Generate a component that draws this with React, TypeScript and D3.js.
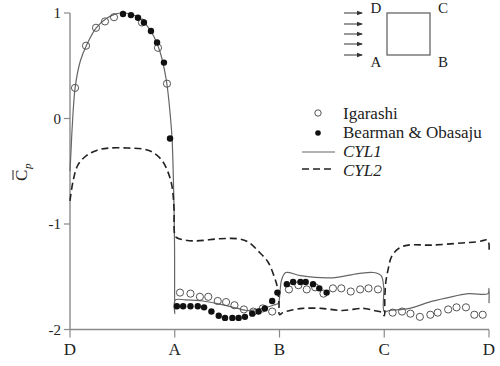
import React from 'react';
import * as d3 from 'd3';

// face positions along the cylinder perimeter (D -> A -> B -> C -> D)
const faceLabels = ['D', 'A', 'B', 'C', 'D'];
const yTicks = [1, 0, -1, -2];

// Igarashi (open circles)
const igarashiS = [
  0.048, 0.153, 0.248, 0.334, 0.42, 0.687, 0.84, 0.926,
  1.05, 1.15, 1.24, 1.32, 1.41, 1.49, 1.57, 1.66, 1.75, 1.84, 1.93,
  2.09, 2.18, 2.26, 2.34, 2.42, 2.51, 2.59, 2.68, 2.77, 2.85, 2.94,
  3.08, 3.17, 3.25, 3.34, 3.44, 3.51, 3.61, 3.69, 3.78, 3.86, 3.94,
];
const igarashiCp = [
  0.29, 0.69, 0.86, 0.92, 0.96, 0.91, 0.67, 0.33,
  -1.65, -1.66, -1.69, -1.69, -1.73, -1.74, -1.77, -1.81, -1.83, -1.8, -1.83,
  -1.62, -1.58, -1.62, -1.6, -1.66, -1.61, -1.61, -1.64, -1.62, -1.61, -1.62,
  -1.84, -1.83, -1.85, -1.88, -1.86, -1.84, -1.81, -1.79, -1.79, -1.86, -1.86,
];

// Bearman & Obasaju (filled dots)
const bearmanS = [
  0.506, 0.582, 0.649, 0.706, 0.773, 0.831, 0.897, 0.955,
  1.02, 1.08, 1.15, 1.22, 1.28, 1.35, 1.42, 1.48, 1.55, 1.61, 1.67, 1.74, 1.8, 1.86, 1.93, 1.98,
  2.07, 2.13, 2.2, 2.25, 2.32, 2.38, 2.45,
];
const bearmanCp = [
  0.99, 0.98, 0.955, 0.91, 0.83, 0.72, 0.53, -0.19,
  -1.78, -1.78, -1.78, -1.78, -1.79, -1.83, -1.87, -1.89, -1.89, -1.89, -1.88, -1.85, -1.83, -1.8, -1.73, -1.65,
  -1.57, -1.55, -1.55, -1.55, -1.57, -1.61, -1.65,
];

// CYL1 (solid line)
const cyl1S = [
  0, 0.01, 0.02, 0.05, 0.1, 0.16, 0.25, 0.35, 0.43, 0.5, 0.58, 0.65, 0.72, 0.8, 0.86, 0.92, 0.96, 0.975, 0.99, 0.998,
  1.0, 1.005, 1.1, 1.27, 1.43, 1.6, 1.69, 1.84, 1.94, 1.99,
  2.0, 2.02, 2.06, 2.2, 2.5, 2.75, 2.9, 2.97, 2.995,
  3.0, 3.05, 3.24, 3.43, 3.6, 3.8, 3.99, 4.0, 4.0,
];
const cyl1Cp = [
  -0.5, -0.3, -0.1, 0.3, 0.55, 0.7, 0.86, 0.95, 0.99, 1.0, 0.99, 0.96, 0.9, 0.78, 0.63, 0.36, 0.0, -0.2, -0.7, -1.2,
  -1.85, -1.72, -1.72, -1.73, -1.76, -1.8, -1.82, -1.8, -1.77, -1.75,
  -1.7, -1.53, -1.46, -1.49, -1.51, -1.47, -1.46, -1.49, -1.6,
  -1.83, -1.82, -1.8, -1.74, -1.7, -1.66, -1.66, -1.61, -1.75,
];

// CYL2 (dashed line)
const cyl2S = [
  0, 0.03, 0.076, 0.16, 0.26, 0.38, 0.55, 0.7, 0.79, 0.88, 0.94, 0.975, 0.993,
  1.0, 1.02, 1.17, 1.43, 1.6, 1.7, 1.8, 1.89, 1.95, 1.98, 1.995,
  2.0, 2.03, 2.1, 2.22, 2.4, 2.6, 2.8, 2.9, 2.98,
  3.0, 3.005, 3.015, 3.035, 3.07, 3.14, 3.23, 3.45, 3.74, 3.88, 3.95, 3.985, 4.0, 4.0,
];
const cyl2Cp = [
  -0.78, -0.59, -0.44, -0.35, -0.3, -0.28, -0.28, -0.29, -0.32, -0.4, -0.52, -0.65, -0.85,
  -1.1, -1.13, -1.16, -1.14, -1.14, -1.17, -1.26, -1.36, -1.5, -1.6, -1.75,
  -1.86, -1.84, -1.82, -1.8, -1.8, -1.82, -1.8, -1.82, -1.84,
  -1.87, -1.7, -1.55, -1.44, -1.31, -1.23, -1.2, -1.2, -1.18, -1.17, -1.155, -1.15, -1.19, -1.27,
];

const W = 500;
const H = 366;
const font = '"Liberation Serif", "Times New Roman", serif';

export default function App() {
  const x = d3.scaleLinear().domain([0, 4]).range([70, 489]);
  const y = d3.scaleLinear().domain([-2, 1]).range([329.5, 13]);

  const pts = (s: number[], c: number[]) => s.map((v, i) => [v, c[i]] as [number, number]);
  const line = d3
    .line<[number, number]>()
    .x((d) => x(d[0]))
    .y((d) => y(d[1]))
    .curve(d3.curveCatmullRom.alpha(0.5));

  const axisColor = '#8a8a8a';
  const arrowYs = [12, 23, 33, 43, 54];

  return (
    <div style={{ position: 'absolute', left: 0, top: 0 }}>
      <svg width={W} height={H} style={{ display: 'block', background: '#fff' }}>
        <defs>
          <marker id="ah" viewBox="0 0 6 6" refX="5" refY="3" markerWidth="6" markerHeight="6" orient="auto">
            <path d="M0,0.8 L6,3 L0,5.2 Z" fill="#333" />
          </marker>
        </defs>

        {/* axes */}
        <line x1={x(0)} x2={x(0)} y1={y(1)} y2={y(-2)} stroke={axisColor} strokeWidth={1.4} />
        <line x1={x(0)} x2={x(4)} y1={y(-2)} y2={y(-2)} stroke={axisColor} strokeWidth={1.6} />
        {yTicks.map((t) => (
          <g key={t}>
            <line x1={x(0) - 6} x2={x(0)} y1={y(t)} y2={y(t)} stroke={axisColor} strokeWidth={1.2} />
            <text x={x(0) - 9} y={y(t)} dy="0.35em" textAnchor="end" fontFamily={font} fontSize={15} fill="#222">
              {t < 0 ? `-${Math.abs(t)}` : t}
            </text>
          </g>
        ))}
        {faceLabels.map((lab, i) => (
          <g key={i}>
            <line x1={x(i)} x2={x(i)} y1={y(-2)} y2={y(-2) + 8} stroke={axisColor} strokeWidth={1.2} />
            <text x={x(i)} y={355} textAnchor="middle" fontFamily={font} fontSize={17} fill="#222">
              {lab}
            </text>
          </g>
        ))}

        {/* y label: C-bar sub p */}
        <g transform="translate(27,181) rotate(-90)">
          <text x={0} y={0} fontFamily={font} fontSize={17} fill="#222">
            C
          </text>
          <line x1={1} x2={11} y1={-14} y2={-14} stroke="#222" strokeWidth={1} />
          <text x={12} y={4} fontFamily={font} fontSize={11} fontStyle="italic" fill="#222">
            p
          </text>
        </g>

        {/* model lines */}
        <path d={line(pts(cyl1S, cyl1Cp)) || ''} fill="none" stroke="#666" strokeWidth={1.2} />
        <path d={line(pts(cyl2S, cyl2Cp)) || ''} fill="none" stroke="#222" strokeWidth={1.6} strokeDasharray="7,4" />

        {/* experiments */}
        {igarashiS.map((s, i) => (
          <circle key={`i${i}`} cx={x(s)} cy={y(igarashiCp[i])} r={3.6} fill="none" stroke="#555" strokeWidth={1} />
        ))}
        {bearmanS.map((s, i) => (
          <circle key={`b${i}`} cx={x(s)} cy={y(bearmanCp[i])} r={3.2} fill="#111" />
        ))}

        {/* inset: square with incoming flow */}
        <rect x={387} y={13} width={43} height={42} fill="none" stroke="#666" strokeWidth={1.3} />
        {arrowYs.map((ay) => (
          <line key={ay} x1={344} x2={362} y1={ay + 1} y2={ay + 1} stroke="#333" strokeWidth={1} markerEnd="url(#ah)" />
        ))}
        <text x={376} y={13} textAnchor="middle" fontFamily={font} fontSize={15} fill="#222">D</text>
        <text x={443} y={13} textAnchor="middle" fontFamily={font} fontSize={15} fill="#222">C</text>
        <text x={376} y={67} textAnchor="middle" fontFamily={font} fontSize={15} fill="#222">A</text>
        <text x={443} y={67} textAnchor="middle" fontFamily={font} fontSize={15} fill="#222">B</text>

        {/* legend */}
        <circle cx={318} cy={113} r={3.2} fill="none" stroke="#555" strokeWidth={1} />
        <text x={343} y={119} fontFamily={font} fontSize={17} fill="#222">Igarashi</text>
        <circle cx={318} cy={133} r={2.8} fill="#111" />
        <text x={343} y={138} fontFamily={font} fontSize={17} fill="#222">Bearman &amp; Obasaju</text>
        <line x1={302} x2={335} y1={152} y2={152} stroke="#666" strokeWidth={1.2} />
        <text x={343} y={157} fontFamily={font} fontSize={17} fontStyle="italic" fill="#222">CYL1</text>
        <line x1={302} x2={335} y1={169} y2={169} stroke="#222" strokeWidth={1.6} strokeDasharray="7,4" />
        <text x={343} y={176} fontFamily={font} fontSize={17} fontStyle="italic" fill="#222">CYL2</text>
      </svg>
    </div>
  );
}
